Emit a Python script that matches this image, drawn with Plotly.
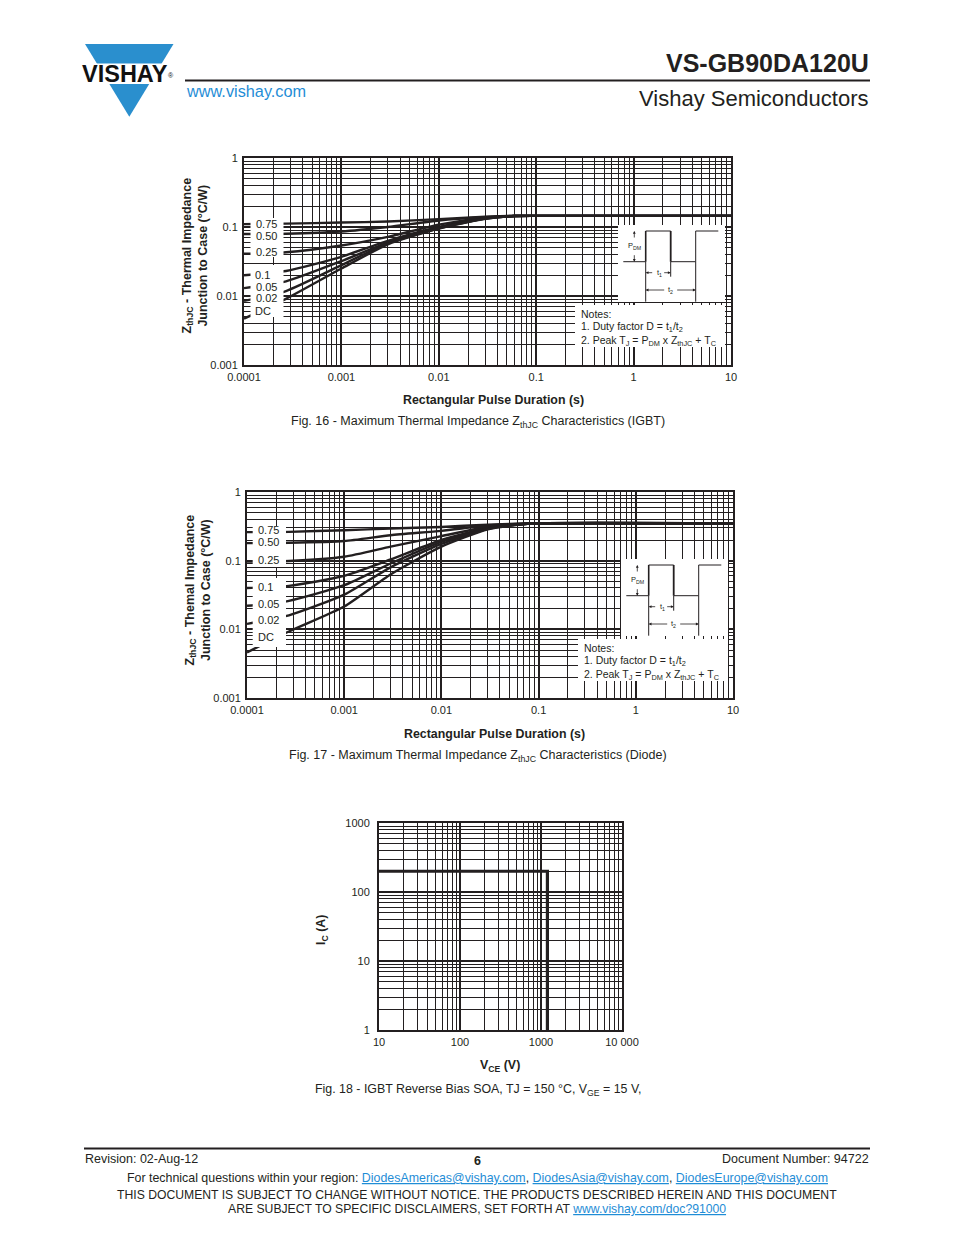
import plotly.graph_objects as go

W, H = 954, 1235
OFF = 8  # page body margin of the browser
FONT = "Liberation Sans, Arial, Helvetica, sans-serif"
INK = "#231f20"
BLUE = "#1f8dd6"

# ---------------- data ----------------
pulse_t = [1e-4, 2.7e-4, 1e-3, 3e-3, 1e-2, 3e-2, 6e-2, 1e-1, 10]
duty_labels = ["0.75", "0.50", "0.25", "0.1", "0.05", "0.02", "DC"]

igbt_075 = [0.110, 0.112, 0.116, 0.120, 0.130, 0.141, 0.145, 0.145, 0.145]
igbt_050 = [0.079, 0.080, 0.086, 0.100, 0.124, 0.139, 0.145, 0.145, 0.145]
igbt_025 = [0.041, 0.043, 0.054, 0.072, 0.108, 0.136, 0.144, 0.145, 0.145]
igbt_010 = [0.020, 0.023, 0.037, 0.063, 0.100, 0.134, 0.144, 0.145, 0.145]
igbt_005 = [0.013, 0.0163, 0.032, 0.060, 0.098, 0.133, 0.144, 0.145, 0.145]
igbt_002 = [0.0085, 0.0118, 0.028, 0.058, 0.096, 0.132, 0.144, 0.145, 0.145]
igbt_dc = [0.0047, 0.0091, 0.025, 0.056, 0.095, 0.131, 0.144, 0.145, 0.145]

diode_075 = [0.260, 0.263, 0.278, 0.294, 0.310, 0.335, 0.345, 0.350, 0.350]
diode_050 = [0.180, 0.182, 0.193, 0.235, 0.272, 0.325, 0.342, 0.350, 0.350]
diode_025 = [0.097, 0.099, 0.114, 0.160, 0.228, 0.312, 0.340, 0.350, 0.350]
diode_010 = [0.040, 0.043, 0.060, 0.104, 0.200, 0.300, 0.336, 0.350, 0.350]
diode_005 = [0.022, 0.026, 0.044, 0.091, 0.188, 0.296, 0.335, 0.350, 0.350]
diode_002 = [0.012, 0.016, 0.032, 0.080, 0.175, 0.292, 0.334, 0.350, 0.350]
diode_dc = [0.0046, 0.0093, 0.0215, 0.063, 0.160, 0.286, 0.332, 0.350, 0.350]

soa_vce = [10, 1200, 1200]
soa_ic = [200, 200, 1]

t_tickvals = [1e-4, 1e-3, 1e-2, 1e-1, 1, 10]
t_ticktext = ["0.0001", "0.001", "0.01", "0.1", "1", "10"]
z_tickvals = [1e-3, 1e-2, 1e-1, 1]
z_ticktext = ["0.001", "0.01", "0.1", "1"]
v_tickvals = [10, 100, 1000, 10000]
v_ticktext = ["10", "100", "1000", "10 000"]
i_tickvals = [1, 10, 100, 1000]
i_ticktext = ["1", "10", "100", "1000"]


# ---------------- helpers ----------------
def px(x):
    return (x - OFF) / W


def py(y):
    return 1 - (y - OFF) / H


P1 = dict(x0=244, x1=731, y0=158, y1=365)
P2 = dict(x0=247, x1=733, y0=492, y1=698)
P3 = dict(x0=379, x1=622, y0=823, y1=1030)

shapes = []
annotations = []


def text(x, y, s, size=12, xanchor="center", yanchor="middle", bold=False,
         color=INK, angle=0):
    if bold:
        s = "<b>" + s + "</b>"
    annotations.append(dict(
        x=px(x), y=py(y), xref="paper", yref="paper", text=s, showarrow=False,
        xanchor=xanchor, yanchor=yanchor, textangle=angle,
        font=dict(family=FONT, size=size, color=color), borderpad=0))


def rect(x0, y0, x1, y1, fill="white"):
    shapes.append(dict(type="rect", xref="paper", yref="paper",
                       x0=px(x0), x1=px(x1), y0=py(y1), y1=py(y0),
                       fillcolor=fill, line=dict(width=0), layer="above"))


def line(x0, y0, x1, y1, w=1.0, color=INK):
    shapes.append(dict(type="line", xref="paper", yref="paper",
                       x0=px(x0), x1=px(x1), y0=py(y0), y1=py(y1),
                       line=dict(color=color, width=w), layer="above"))


def arrow(xh, yh, ax, ay):
    annotations.append(dict(
        x=px(xh), y=py(yh), xref="paper", yref="paper", text="",
        showarrow=True, ax=ax, ay=ay, arrowhead=2, arrowsize=0.7,
        arrowwidth=0.8, arrowcolor=INK, standoff=0))


def axis(P, rng, tv, tt, anchor, is_x, std=5):
    if is_x:
        dom = [px(P["x0"]), px(P["x1"])]
    else:
        dom = [py(P["y1"]), py(P["y0"])]
    return dict(type="log", domain=dom, range=rng, tickmode="array",
                tickvals=tv, ticktext=tt, showgrid=True, gridcolor=INK,
                gridwidth=1.6,
                minor=dict(showgrid=True, gridcolor=INK, gridwidth=0.9,
                           dtick="D1", ticks=""),
                showline=True, linecolor=INK, linewidth=2, mirror=True,
                ticks="", zeroline=False, anchor=anchor, fixedrange=True,
                automargin=False, ticklabelstandoff=std,
                tickfont=dict(family=FONT, size=11, color=INK))


fig = go.Figure()

igbt = [igbt_075, igbt_050, igbt_025, igbt_010, igbt_005, igbt_002, igbt_dc]
diode = [diode_075, diode_050, diode_025, diode_010, diode_005, diode_002, diode_dc]

for lab, ys in zip(duty_labels, igbt):
    fig.add_trace(go.Scatter(x=pulse_t, y=ys, mode="lines", name=lab,
                             line=dict(color=INK, width=2.4, shape="spline",
                                       smoothing=0.6),
                             xaxis="x", yaxis="y", showlegend=False,
                             hoverinfo="skip"))
for lab, ys in zip(duty_labels, diode):
    fig.add_trace(go.Scatter(x=pulse_t, y=ys, mode="lines", name=lab,
                             line=dict(color=INK, width=2.4, shape="spline",
                                       smoothing=0.6),
                             xaxis="x2", yaxis="y2", showlegend=False,
                             hoverinfo="skip"))
fig.add_trace(go.Scatter(x=soa_vce, y=soa_ic, mode="lines",
                         line=dict(color=INK, width=3.2),
                         xaxis="x3", yaxis="y3", showlegend=False,
                         hoverinfo="skip"))


# ---------------- duty-factor label boxes ----------------
def label_boxes(P, boxes, label_y, lx):
    for (a, b) in boxes:
        rect(P["x0"] + lx[0], P["y0"] + a, P["x0"] + lx[1], P["y0"] + b)
    for lab, yy in zip(duty_labels, label_y):
        text(P["x0"] + lx[0] + 4, P["y0"] + yy, lab, size=11, xanchor="left")


label_boxes(P1, [(60, 99), (107, 159)], [66, 78, 94, 117, 129, 140, 153], (6.5, 39.5))
label_boxes(P2, [(34, 75), (86, 155)], [38, 50, 68, 95, 112, 128, 145], (5.7, 39))


# ---------------- pulse inset + notes ----------------
def inset(P):
    ox, oy = P["x0"], P["y0"]
    rect(ox + 374, oy + 67, ox + 481, oy + 144)
    rect(ox + 331, oy + 147, ox + 481, oy + 189)
    base, top = oy + 103.7, oy + 73
    xa, xb, xc, xd, xe = [ox + v for v in (379.3, 401.7, 426.7, 451.7, 474.3)]
    line(xa, base, xb, base)
    line(xb, base, xb, top, w=1.6)
    line(xb, top, xc, top)
    line(xc, top, xc, base, w=1.8)
    line(xc, base, xd, base)
    line(xd, base, xd, top)
    line(xd, top, xe, top)
    # extension lines
    line(xb, base, xb, oy + 143.7)
    line(xc, base, xc, oy + 118.7)
    line(xd, base, xd, oy + 143.7)
    # P_DM arrows
    xp = ox + 390.3
    arrow(xp, top, 0, 8)
    arrow(xp, base, 0, -8)
    text(xp, oy + 88, "P<sub>DM</sub>", size=7.5)
    # t1
    y1 = oy + 114.7
    arrow(xb, y1, 8, 0)
    arrow(xc, y1, -8, 0)
    text((xb + xc) / 2 + 1, y1, "t<sub>1</sub>", size=7.5)
    # t2
    y2 = oy + 132
    arrow(xb, y2, 20, 0)
    arrow(xd, y2, -20, 0)
    text((xb + xd) / 2, y2, "t<sub>2</sub>", size=7.5)
    # notes
    nx = ox + 336
    text(nx, oy + 156, "Notes:", size=10.5, xanchor="left")
    text(nx, oy + 169, "1. Duty factor D = t<sub>1</sub>/t<sub>2</sub>",
         size=10.5, xanchor="left")
    text(nx, oy + 183, "2. Peak T<sub>J</sub> = P<sub>DM</sub> x Z<sub>thJC</sub> + T<sub>C</sub>",
         size=10.5, xanchor="left")


inset(P1)
inset(P2)

# ---------------- axis titles & captions ----------------
text(194.5, 256, "Z<sub>thJC</sub> - Thermal Impedance<br>Junction to Case (°C/W)",
     size=12.5, bold=True, angle=-90)
text(493, 400, "Rectangular Pulse Duration (s)", size=12.4, bold=True)
text(478, 422, "Fig. 16 - Maximum Thermal Impedance Z<sub>thJC</sub> Characteristics (IGBT)",
     size=12.5)

text(197.5, 590, "Z<sub>thJC</sub> - Themal Impedance<br>Junction to Case (°C/W)",
     size=12.5, bold=True, angle=-90)
text(495, 734, "Rectangular Pulse Duration (s)", size=12.4, bold=True)
text(478, 756, "Fig. 17 - Maximum Thermal Impedance Z<sub>thJC</sub> Characteristics (Diode)",
     size=12.5)

text(322, 930, "I<sub>C</sub> (A)", size=12.4, bold=True, angle=-90)
text(500, 1066, "V<sub>CE</sub> (V)", size=12.4, bold=True)
text(478, 1090, "Fig. 18 - IGBT Reverse Bias SOA, TJ = 150 °C, V<sub>GE</sub> = 15 V,",
     size=12.4)

# ---------------- header ----------------
tri = "M {},{} L {},{} L {},{} Z".format(px(85), py(44), px(173.5), py(44),
                                        px(129.3), py(116.7))
shapes.append(dict(type="path", path=tri, xref="paper", yref="paper",
                   fillcolor="#2a8fce", line=dict(width=0), layer="above"))
rect(80, 63.5, 180, 84)
text(125, 74, "VISHAY", size=23.5, bold=True, color="#111111")
text(171, 75, "®", size=7, color="#111111")
line(185, 80.5, 870, 80.5, w=2)
text(185, 91, "www.vishay.com", size=16.3, xanchor="left", color=BLUE)
text(870, 63.5, "VS-GB90DA120U", size=25, bold=True, xanchor="right")
text(870, 98, "Vishay Semiconductors", size=22, xanchor="right")

# ---------------- footer ----------------
line(84, 1148.5, 870, 1148.5, w=2)
text(84, 1159, "Revision: 02-Aug-12", size=12.5, xanchor="left")
text(477, 1161, "6", size=12.5, bold=True)
text(870, 1159, "Document Number: 94722", size=12.5, xanchor="right")


def link(s):
    return "<span style='color:%s'><u>%s</u></span>" % (BLUE, s)


text(477, 1178, "For technical questions within your region: " + link("DiodesAmericas@vishay.com")
     + ", " + link("DiodesAsia@vishay.com") + ", " + link("DiodesEurope@vishay.com"),
     size=12.4)
text(477, 1195, "THIS DOCUMENT IS SUBJECT TO CHANGE WITHOUT NOTICE. THE PRODUCTS DESCRIBED HEREIN AND THIS DOCUMENT",
     size=12.2)
text(477, 1208.5, "ARE SUBJECT TO SPECIFIC DISCLAIMERS, SET FORTH AT " + link("www.vishay.com/doc?91000"),
     size=12.2)

fig.update_layout(
    width=W, height=H, autosize=False,
    margin=dict(l=0, r=0, t=0, b=0, pad=0, autoexpand=False),
    paper_bgcolor="white", plot_bgcolor="white",
    showlegend=False, hovermode=False,
    xaxis=axis(P1, [-4, 1], t_tickvals, t_ticktext, "y", True, 1),
    yaxis=axis(P1, [-3, 0], z_tickvals, z_ticktext, "x", False, 2),
    xaxis2=axis(P2, [-4, 1], t_tickvals, t_ticktext, "y2", True, 1),
    yaxis2=axis(P2, [-3, 0], z_tickvals, z_ticktext, "x2", False, 2),
    xaxis3=axis(P3, [1, 4], v_tickvals, v_ticktext, "y3", True, 1),
    yaxis3=axis(P3, [0, 3], i_tickvals, i_ticktext, "x3", False, 5),
    shapes=shapes, annotations=annotations,
)

fig.write_html("out.html")
